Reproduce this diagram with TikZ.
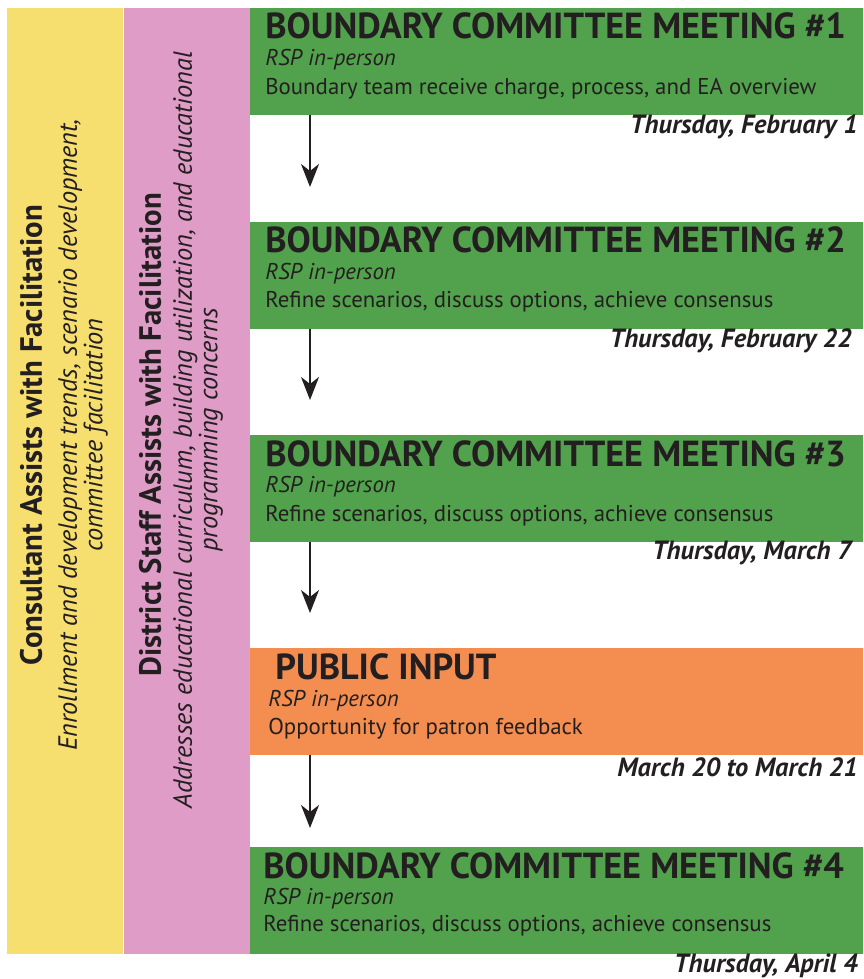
\documentclass[tikz,border=0pt]{standalone}
\usepackage{fontspec}
\setmainfont{PT Sans}
\usetikzlibrary{arrows.meta,positioning}
\definecolor{meetgreen}{HTML}{52A14C}
\definecolor{inputorange}{HTML}{F48D50}
\definecolor{consyellow}{HTML}{F7DF6F}
\definecolor{staffpink}{HTML}{DF9CC6}
\definecolor{inktext}{HTML}{231F20}
\tikzset{
  column/.style={anchor=north west, inner sep=0pt, outer sep=0pt, minimum height=18.92cm},
  stage/.style={anchor=north west, inner sep=0pt, outer sep=0pt, minimum width=12.26cm, minimum height=2.14cm},
  ttl/.style={anchor=base west, inner sep=0pt, text=inktext, font=\bfseries\fontsize{20.6}{24}\selectfont},
  sub/.style={anchor=west, inner sep=0pt, text=inktext, font=\itshape\fontsize{13}{15}\selectfont},
  body/.style={anchor=west, inner sep=0pt, text=inktext, font=\fontsize{13}{15}\selectfont},
  date/.style={anchor=east, inner sep=0pt, text=inktext, font=\bfseries\itshape\fontsize{15}{17}\selectfont},
  sidehead/.style={rotate=90, inner sep=0pt, text=inktext, font=\bfseries\fontsize{17.5}{20}\selectfont},
  sidenote/.style={rotate=90, inner sep=0pt, align=center, text=inktext, font=\itshape\fontsize{15}{14.5}\selectfont},
  arr/.style={-{Stealth[length=0.46cm,width=0.36cm,inset=0.14cm]}, line width=1.2pt, inktext}
}
\begin{document}
\begin{tikzpicture}[x=0.02cm,y=-0.02cm]
  \useasboundingbox (0,0) rectangle (863,979);
  % side columns
  \node (cons) [column, fill=consyellow, minimum width=2.32cm] at (7,8) {};
  \node (staff) [column, fill=staffpink, minimum width=2.52cm] at (124,8) {};
  \node (conshead) [sidehead] at (31,435) {Consultant Assists with Facilitation};
  \node (consnote) [sidenote] at (83,435) {Enrollment and development trends, scenario development,\\committee facilitation};
  \node (staffhead) [sidehead] at (150,435) {District Staff Assists with Facilitation};
  \node (staffnote) [sidenote] at (198,430) {Addresses educational curriculum, building utilization, and educational\\programming concerns};
  % meeting #1
  \node (m1) [stage, fill=meetgreen] at (250,8) {};
  \node (m1t) [ttl] at (265,39) {BOUNDARY COMMITTEE MEETING \#1};
  \node (m1s) [sub] at (265,60) {RSP in-person};
  \node (m1b) [body] at (265,89) {Boundary team receive charge, process, and EA overview};
  \node (m1d) [date] at (858,127) {Thursday, February 1};
  % meeting #2
  \node (m2) [stage, fill=meetgreen] at (250,222) {};
  \node (m2t) [ttl] at (265,253) {BOUNDARY COMMITTEE MEETING \#2};
  \node (m2s) [sub] at (265,274) {RSP in-person};
  \node (m2b) [body] at (265,302) {Refine scenarios, discuss options, achieve consensus};
  \node (m2d) [date] at (852,341) {Thursday, February 22};
  % meeting #3
  \node (m3) [stage, fill=meetgreen] at (250,435) {};
  \node (m3t) [ttl] at (265,466) {BOUNDARY COMMITTEE MEETING \#3};
  \node (m3s) [sub] at (265,487) {RSP in-person};
  \node (m3b) [body] at (265,516) {Refine scenarios, discuss options, achieve consensus};
  \node (m3d) [date] at (852,553) {Thursday, March 7};
  % public input
  \node (pi) [stage, fill=inputorange] at (250,648) {};
  \node (pit) [ttl] at (275,679) {PUBLIC INPUT};
  \node (pis) [sub] at (268,701) {RSP in-person};
  \node (pib) [body] at (268,729) {Opportunity for patron feedback};
  \node (pid) [date] at (858,767) {March 20 to March 21};
  % meeting #4
  \node (m4) [stage, fill=meetgreen] at (250,847) {};
  \node (m4t) [ttl] at (263,878) {BOUNDARY COMMITTEE MEETING \#4};
  \node (m4s) [sub] at (263,899) {RSP in-person};
  \node (m4b) [body] at (263,926) {Refine scenarios, discuss options, achieve consensus};
  \node (m4d) [date] at (858,966) {Thursday, April 4};
  % arrows
  \coordinate (a1) at (310,187);
  \coordinate (a2) at (310,400);
  \coordinate (a3) at (310,613);
  \coordinate (a4) at (310,828);
  \draw [arr] (a1 |- m1.south) -- (a1);
  \draw [arr] (a2 |- m2.south) -- (a2);
  \draw [arr] (a3 |- m3.south) -- (a3);
  \draw [arr] (a4 |- pi.south) -- (a4);
\end{tikzpicture}
\end{document}
